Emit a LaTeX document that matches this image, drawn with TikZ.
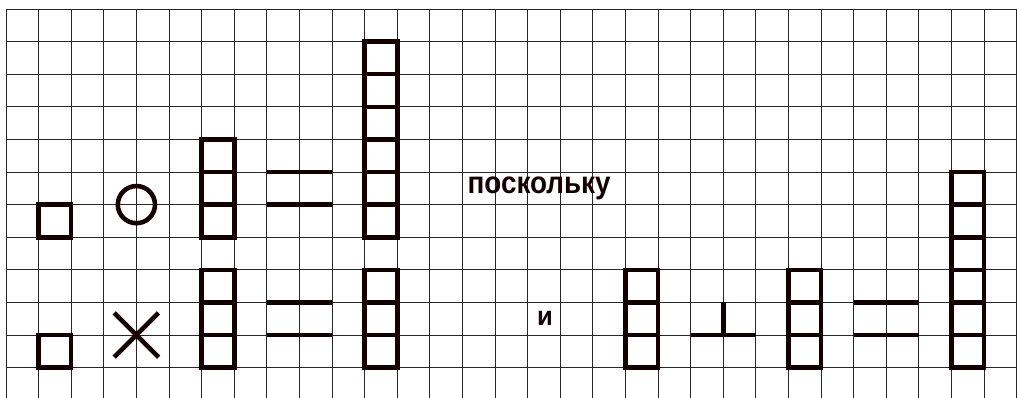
\documentclass[tikz,border=0pt]{standalone}
\usepackage{fontspec}
\setmainfont{Liberation Sans}
\begin{document}
\begin{tikzpicture}[x=1cm,y=-1cm,
  gridline/.style={line width=0.87pt, black!85},
  heavy/.style={line width=4pt, black!92!red, line join=miter},
  wordlabel/.style={inner sep=0pt, text=black!92!red}]
\useasboundingbox (-0.184,-0.276) rectangle (31.01,11.93);
% grid
\foreach \r in {0,...,11} \draw[gridline] (0,\r) -- (31.01,\r);
\foreach \c in {0,...,31} \draw[gridline] (\c,0) -- (\c,11.93);
% left small squares
\draw[heavy] (1,6) rectangle (2,7);
\draw[heavy] (1,10) rectangle (2,11);
% circle and cross
\draw[heavy] (4,6) circle (0.57);
\draw[heavy] (3.32,9.32) -- (4.68,10.68);
\draw[heavy] (3.32,10.68) -- (4.68,9.32);
% stacks column 6
\draw[heavy] (6,4) rectangle (7,7);
\draw[heavy] (6,5) -- (7,5) (6,6) -- (7,6);
\draw[heavy] (6,8) rectangle (7,11);
\draw[heavy] (6,9) -- (7,9) (6,10) -- (7,10);
% equals signs
\draw[heavy] (8,5) -- (10,5) (8,6) -- (10,6);
\draw[heavy] (8,9) -- (10,9) (8,10) -- (10,10);
% stacks column 11
\draw[heavy] (11,1) rectangle (12,7);
\foreach \r in {2,...,6} \draw[heavy] (11,\r) -- (12,\r);
\draw[heavy] (11,8) rectangle (12,11);
\draw[heavy] (11,9) -- (12,9) (11,10) -- (12,10);
% text
\node[wordlabel, anchor=base west] (since) at (14.15,5.65)
  {\scalebox{0.9}[1]{\fontsize{27}{27}\selectfont\bfseries поскольку}};
\node[wordlabel, anchor=base] (and) at (16.53,9.71)
  {\scalebox{0.95}[1]{\fontsize{23.5}{23.5}\selectfont\bfseries и}};
% right part
\draw[heavy] (19,8) rectangle (20,11);
\draw[heavy] (19,9) -- (20,9) (19,10) -- (20,10);
\draw[heavy] (21,10) -- (23,10) (22,9) -- (22,10);
\draw[heavy] (24,8) rectangle (25,11);
\draw[heavy] (24,9) -- (25,9) (24,10) -- (25,10);
\draw[heavy] (26,9) -- (28,9) (26,10) -- (28,10);
\draw[heavy] (29,5) rectangle (30,11);
\foreach \r in {6,...,10} \draw[heavy] (29,\r) -- (30,\r);
\end{tikzpicture}
\end{document}
